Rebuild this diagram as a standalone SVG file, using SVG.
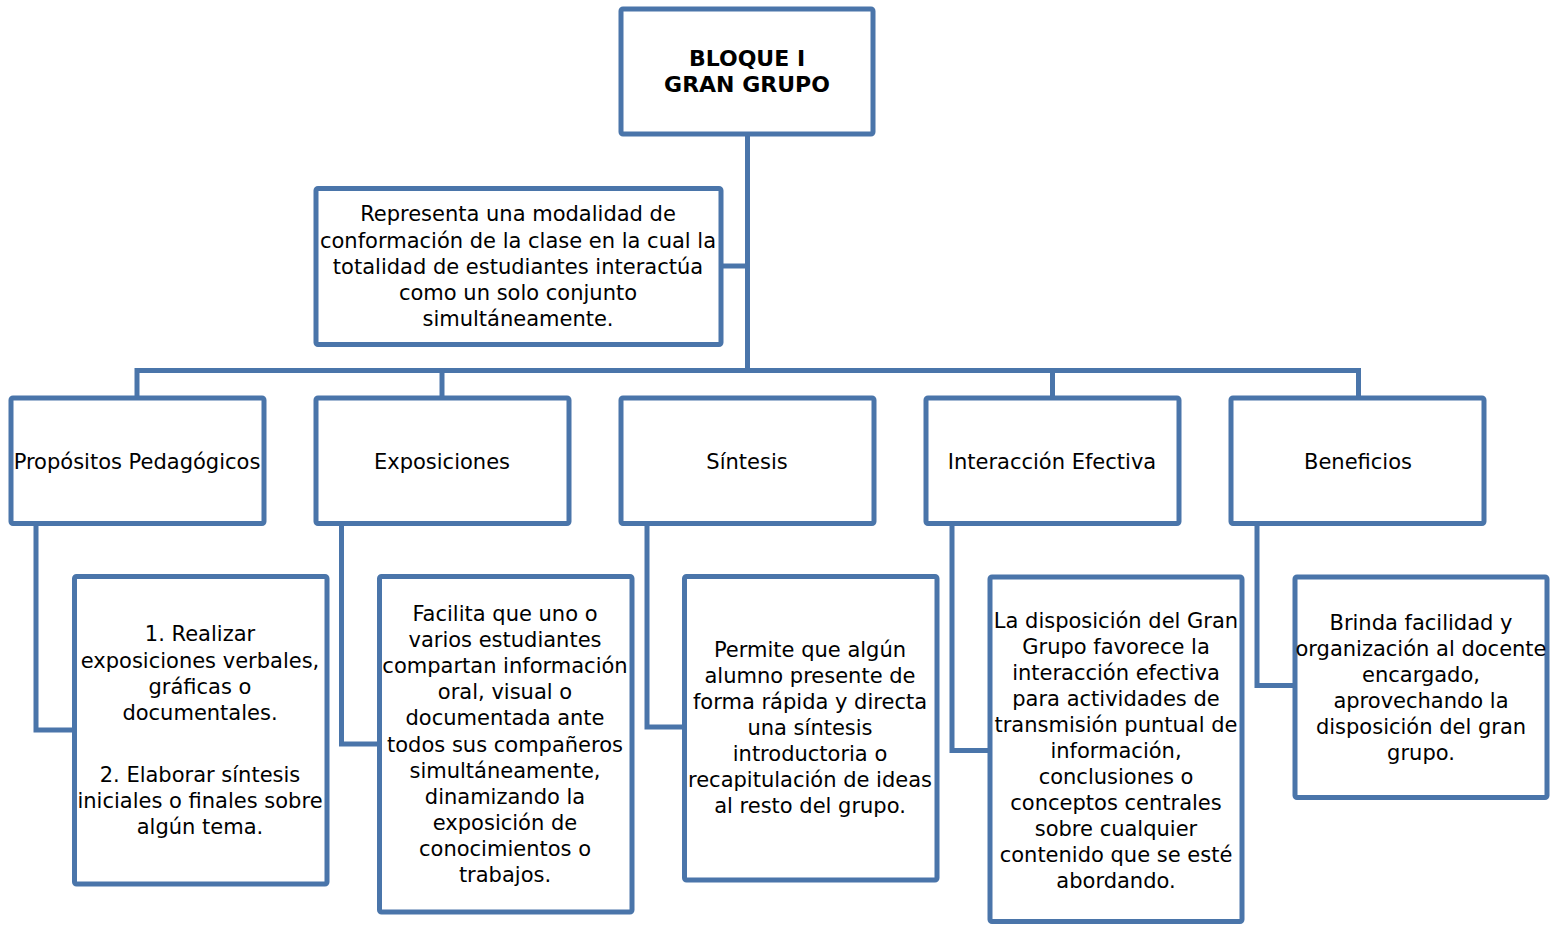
<svg xmlns="http://www.w3.org/2000/svg" width="1561" height="925" viewBox="0 0 1561 925">
<style>
.box{fill:#ffffff;stroke:#4A75AA;stroke-width:5;}
.ln{fill:none;stroke:#4A75AA;stroke-width:5;}
text{font-family:"DejaVu Sans","Verdana",sans-serif;font-size:21px;fill:#000;text-anchor:middle;}
.b{font-weight:bold;font-size:22px;}
</style>
<rect width="1561" height="925" fill="#ffffff"/>
<g id="connectors">
<path class="ln" d="M747.5,134 V370.5"/>
<path class="ln" d="M721,266 H747.5"/>
<path class="ln" d="M137,370.5 H1358.5"/>
<path class="ln" d="M137,368 V398"/>
<path class="ln" d="M442,368 V398"/>
<path class="ln" d="M1052.5,368 V398"/>
<path class="ln" d="M1358.5,368 V398"/>
<path class="ln" d="M36,523 V730 H74"/>
<path class="ln" d="M341.5,523 V744 H379"/>
<path class="ln" d="M647,523 V727 H684"/>
<path class="ln" d="M952,523 V750.5 H990"/>
<path class="ln" d="M1257,523 V685.5 H1295"/>
</g>
<g id="root">
<rect class="box" x="621" y="9" width="252" height="125" rx="2"/>
<text class="b" x="747" y="66">BLOQUE I</text>
<text class="b" x="747" y="92">GRAN GRUPO</text>
</g>
<g id="definicion">
<rect class="box" x="316" y="188.5" width="405" height="156" rx="2"/>
<text x="518" y="221">Representa una modalidad de</text>
<text x="518" y="248">conformación de la clase en la cual la</text>
<text x="518" y="274">totalidad de estudiantes interactúa</text>
<text x="518" y="300">como un solo conjunto</text>
<text x="518" y="326">simultáneamente.</text>
</g>
<g id="propositos">
<rect class="box" x="11" y="398" width="253" height="125.5" rx="2"/>
<text x="137" y="469">Propósitos Pedagógicos</text>
</g>
<g id="exposiciones">
<rect class="box" x="316" y="398" width="253" height="125.5" rx="2"/>
<text x="442" y="469">Exposiciones</text>
</g>
<g id="sintesis">
<rect class="box" x="621" y="398" width="253" height="125.5" rx="2"/>
<text x="747" y="469">Síntesis</text>
</g>
<g id="interaccion">
<rect class="box" x="926" y="398" width="253" height="125.5" rx="2"/>
<text x="1052" y="469">Interacción Efectiva</text>
</g>
<g id="beneficios">
<rect class="box" x="1231" y="398" width="253" height="125.5" rx="2"/>
<text x="1358" y="469">Beneficios</text>
</g>
<g id="det-propositos">
<rect class="box" x="74.5" y="576.5" width="252.5" height="307.5" rx="2"/>
<text x="200" y="641">1. Realizar</text>
<text x="200" y="668">exposiciones verbales,</text>
<text x="200" y="694">gráficas o</text>
<text x="200" y="720">documentales.</text>
<text x="200" y="782">2. Elaborar síntesis</text>
<text x="200" y="808">iniciales o finales sobre</text>
<text x="200" y="834">algún tema.</text>
</g>
<g id="det-exposiciones">
<rect class="box" x="379.5" y="576.5" width="252.5" height="335.5" rx="2"/>
<text x="505" y="621">Facilita que uno o</text>
<text x="505" y="647">varios estudiantes</text>
<text x="505" y="673">compartan información</text>
<text x="505" y="699">oral, visual o</text>
<text x="505" y="725">documentada ante</text>
<text x="505" y="752">todos sus compañeros</text>
<text x="505" y="778">simultáneamente,</text>
<text x="505" y="804">dinamizando la</text>
<text x="505" y="830">exposición de</text>
<text x="505" y="856">conocimientos o</text>
<text x="505" y="882">trabajos.</text>
</g>
<g id="det-sintesis">
<rect class="box" x="684.5" y="576.5" width="252.5" height="303.5" rx="2"/>
<text x="810" y="657">Permite que algún</text>
<text x="810" y="683">alumno presente de</text>
<text x="810" y="709">forma rápida y directa</text>
<text x="810" y="735">una síntesis</text>
<text x="810" y="761">introductoria o</text>
<text x="810" y="787">recapitulación de ideas</text>
<text x="810" y="813">al resto del grupo.</text>
</g>
<g id="det-interaccion">
<rect class="box" x="990" y="577" width="252" height="344.5" rx="2"/>
<text x="1116" y="628">La disposición del Gran</text>
<text x="1116" y="654">Grupo favorece la</text>
<text x="1116" y="680">interacción efectiva</text>
<text x="1116" y="706">para actividades de</text>
<text x="1116" y="732">transmisión puntual de</text>
<text x="1116" y="758">información,</text>
<text x="1116" y="784">conclusiones o</text>
<text x="1116" y="810">conceptos centrales</text>
<text x="1116" y="836">sobre cualquier</text>
<text x="1116" y="862">contenido que se esté</text>
<text x="1116" y="888">abordando.</text>
</g>
<g id="det-beneficios">
<rect class="box" x="1295" y="577" width="252" height="220.5" rx="2"/>
<text x="1421" y="630">Brinda facilidad y</text>
<text x="1421" y="656">organización al docente</text>
<text x="1421" y="682">encargado,</text>
<text x="1421" y="708">aprovechando la</text>
<text x="1421" y="734">disposición del gran</text>
<text x="1421" y="760">grupo.</text>
</g>
</svg>
